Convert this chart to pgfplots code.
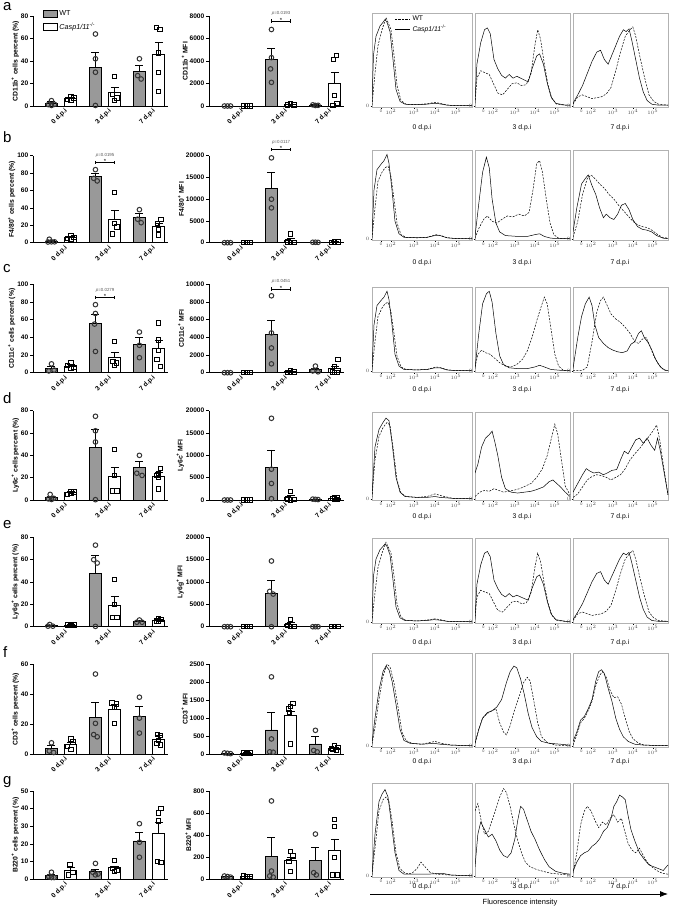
\documentclass[border=0pt]{standalone}
\usepackage{fontspec}
\setmainfont{Liberation Sans}
\setsansfont{Liberation Sans}
\usepackage{pgfplots}
\pgfplotsset{compat=1.18}
\usetikzlibrary{arrows.meta}
\definecolor{barg}{gray}{0.6}
\newcommand{\fs}[1]{\fontsize{#1}{#1}\selectfont}

\pgfplotsset{
  barax/.style={scale only axis, width=135pt, xmin=-0.64, xmax=2.43, ymin=0, clip=false,
    anchor=north west,
    axis x line=bottom, axis y line=left, axis line style={-, line width=0.9pt, black},
    xtick={0,1,2}, xticklabels={0 d.p.i,3 d.p.i,7 d.p.i}, xtick style={draw=none},
    x tick label style={rotate=45, anchor=north east, font=\bfseries\fs{6.6}, inner sep=1pt, xshift=4pt},
    ytick style={line width=0.8pt, black}, major tick length=3pt, tick align=outside,
    y tick label style={font=\bfseries\fs{6.6}, inner sep=1.5pt},
    ylabel style={font=\bfseries\fs{6.8}, yshift=-3pt},
    scaled y ticks=false, /pgf/number format/1000 sep={},
    /pgf/number format/assume math mode=true},
  wtbar/.style={ybar, bar width=12pt, bar shift=0pt, fill=barg, draw=black, line width=0.8pt,
    error bars/y dir=plus, error bars/y explicit,
    error bars/error bar style={line width=0.8pt, black},
    error bars/error mark options={rotate=90, mark size=4pt, line width=0.8pt, black}},
  kobar/.style={wtbar, fill=white},
  wtpt/.style={only marks, mark=o, mark size=2.3pt, mark options={line width=1pt, draw=black!80}},
  kopt/.style={only marks, mark=square, mark size=2.2pt, mark options={line width=1pt, draw=black}},
  histax/.style={scale only axis, anchor=north west, xmin=0, xmax=10, ymin=-1, ymax=100,
    axis line style={gray!60, line width=0.6pt},
    xtick={0.9,1.9,4.2,6.3,8.4}, xticklabels={0,$10^2$,$10^3$,$10^4$,$10^5$}, ytick={0},
    tick label style={font=\fs{3.8}, inner sep=1pt, text=black!70},
    tick style={black, line width=0.3pt}, major tick length=1.5pt, tick align=outside,
    xtick pos=bottom, ytick pos=left},
  wtline/.style={black, line width=0.5pt, dash pattern=on 2pt off 1.3pt},
  koline/.style={black, line width=0.5pt},
}

% bar axis: #1 x, #2 top, #3 height, #4 ymax, #5 yticks, #6 ylabel, #7 plots
\newcommand{\bax}[7]{%
  \begin{axis}[barax, at={(#1pt,-#2pt)}, height=#3pt, ymax=#4, ytick={#5}, ylabel={#6}]
  #7
  \end{axis}}
% #1 WT bars, #2 KO bars, #3 WT points, #4 KO points
\newcommand{\bplot}[4]{%
  \addplot[wtbar] coordinates {#1};
  \addplot[kobar] coordinates {#2};
  \addplot[wtpt] coordinates {#3};
  \addplot[kopt] coordinates {#4};}
% significance bracket at 3 d.p.i: #1 y, #2 p text
\newcommand{\sig}[2]{%
  \draw[line width=0.6pt] (axis cs:0.78,#1) -- (axis cs:1.22,#1);
  \draw[line width=0.6pt] (axis cs:0.78,#1) ++(0pt,1.8pt) -- ++(0pt,-3.6pt);
  \draw[line width=0.6pt] (axis cs:1.22,#1) ++(0pt,1.8pt) -- ++(0pt,-3.6pt);
  \node[anchor=south, inner sep=0pt, font=\fs{6}] at (axis cs:1,#1) [yshift=-1.5pt] {*};
  \node[anchor=south, inner sep=0pt, font=\fs{4.4}, text=black!65] at (axis cs:1,#1) [yshift=5pt] {\textit{p}=#2};}
% histogram: #1 x, #2 top, #3 width, #4 height, #5 WT, #6 KO
\newcommand{\hist}[6]{%
  \begin{axis}[histax, at={(#1pt,-#2pt)}, width=#3pt, height=#4pt]
  \addplot[wtline] coordinates {#5};
  \addplot[koline] coordinates {#6};
  \end{axis}}
\newcommand{\days}[1]{%
  \node[font=\fs{6.8}] at (422pt,-#1pt) {0 d.p.i};
  \node[font=\fs{6.8}] at (522pt,-#1pt) {3 d.p.i};
  \node[font=\fs{6.8}] at (620pt,-#1pt) {7 d.p.i};}

% histogram curves (shared between rows a and e)
\newcommand{\aWTa}{(0,1)(0.3,35)(0.6,65)(1.0,82)(1.4,95)(1.6,90)(1.9,82)(2.2,55)(2.5,22)(2.9,6)(3.4,2)(4.5,1.5)(5.5,2.5)(6.3,4)(6.8,3)(7.6,1)(8.5,0.5)(10,0.5)}
\newcommand{\aKOa}{(0,4)(0.15,55)(0.4,75)(0.8,86)(1.1,90)(1.3,93)(1.5,90)(1.8,80)(2.1,50)(2.4,18)(2.8,5)(3.3,2)(4.5,1.5)(5.5,2)(6.2,3)(6.7,2.5)(7.5,1)(8.5,0.5)(10,0.5)}
\newcommand{\aWTb}{(0,3)(0.2,30)(0.6,38)(1.0,36)(1.5,34)(1.9,25)(2.4,14)(2.9,12)(3.4,18)(3.9,24)(4.4,25)(4.9,22)(5.4,23)(5.9,35)(6.3,65)(6.6,82)(6.9,72)(7.3,45)(7.7,22)(8.1,8)(8.6,2)(9.5,1)(10,1)}
\newcommand{\aKOb}{(0,5)(0.2,45)(0.6,68)(1.0,82)(1.3,84)(1.6,78)(2.0,50)(2.4,40)(2.8,33)(3.2,30)(3.6,34)(4.0,30)(4.4,32)(4.8,30)(5.2,28)(5.6,26)(6.0,40)(6.5,54)(6.8,56)(7.2,45)(7.6,25)(8.0,10)(8.5,3)(9.5,1)(10,1)}
\newcommand{\aWTc}{(0,2)(0.5,10)(1.0,12)(1.5,10)(2.0,8)(2.5,9)(3.0,10)(3.5,13)(4.0,20)(4.5,38)(5.0,58)(5.5,75)(6.0,82)(6.3,85)(6.6,75)(7.0,55)(7.5,32)(8.0,12)(8.5,5)(9,2)(10,1)}
\newcommand{\aKOc}{(0,3)(0.5,12)(1.0,22)(1.5,35)(2.0,48)(2.5,58)(2.9,60)(3.3,50)(3.7,45)(4.1,55)(4.5,65)(4.9,75)(5.3,82)(5.6,80)(5.9,83)(6.2,70)(6.6,50)(7.0,30)(7.4,15)(7.8,6)(8.3,2)(9,1)(10,1)}
\newcommand{\bWTa}{(0,1)(0.3,35)(0.6,65)(1.0,75)(1.3,80)(1.6,82)(1.9,70)(2.2,45)(2.5,18)(2.9,5)(3.4,2)(4.5,1.5)(5.5,2)(6.4,5)(6.9,4)(7.5,1.5)(8.5,0.5)(10,0.5)}
\newcommand{\bKOa}{(0,3)(0.2,55)(0.5,78)(0.9,84)(1.2,88)(1.5,95)(1.7,85)(2.0,55)(2.3,20)(2.7,6)(3.2,2)(4.5,1.5)(5.5,2)(6.3,4)(6.8,4)(7.5,1.5)(8.5,0.5)(10,0.5)}

\begin{document}
\begin{tikzpicture}
\path[use as bounding box] (0,0) rectangle (675pt,-910pt);

% panel letters
\node[anchor=base west, inner sep=0pt, font=\fs{15}] at (3pt,-10pt) {a};
\node[anchor=base west, inner sep=0pt, font=\fs{15}] at (3pt,-142pt) {b};
\node[anchor=base west, inner sep=0pt, font=\fs{15}] at (3pt,-272pt) {c};
\node[anchor=base west, inner sep=0pt, font=\fs{15}] at (3pt,-403pt) {d};
\node[anchor=base west, inner sep=0pt, font=\fs{15}] at (3pt,-528pt) {e};
\node[anchor=base west, inner sep=0pt, font=\fs{15}] at (3pt,-657pt) {f};
\node[anchor=base west, inner sep=0pt, font=\fs{15}] at (3pt,-784pt) {g};

% ---------------- row a ----------------
\begin{axis}[barax, at={(33pt,-16pt)}, height=90pt, ymax=80, ytick={0,20,40,60,80},
  ylabel={CD11b\textsuperscript{+} cells percent (\%)},
  legend image code/.code={\draw[#1] (0pt,-3.5pt) rectangle (14pt,3.5pt);},
  legend style={at={(rel axis cs:0.07,1.08)}, anchor=north west, draw=none, fill=none,
    font=\fs{7.2}, row sep=1.5pt, inner sep=0pt}, legend cell align=left]
\addlegendimage{fill=barg, draw=black, line width=0.8pt}
\addlegendentry{WT}
\addlegendimage{fill=white, draw=black, line width=0.8pt}
\addlegendentry{\textit{Casp1/11}\textsuperscript{-/-}}
\bplot{(-0.22,2.5) +- (0,1.2) (0.78,34) +- (0,13.5) (1.78,31) +- (0,5.5)}
      {(0.22,7) +- (0,1) (1.22,12) +- (0,4.6) (2.22,45.6) +- (0,11)}
      {(-0.29,1.2) (-0.22,4.8) (-0.15,1.5) (-0.22,0.5) (0.78,64) (0.78,42) (0.78,30) (0.78,0.5) (1.78,42) (1.74,27) (1.82,24)}
      {(0.15,6) (0.22,8.5) (0.29,7) (0.22,5.5) (1.22,26) (1.17,10) (1.27,7) (1.22,5) (2.17,70) (2.25,68) (2.22,47) (2.22,30) (2.22,13)}
\end{axis}
\bax{209}{16}{90}{8000}{0,2000,4000,6000,8000}{CD11b\textsuperscript{+} MFI}{%
\bplot{(-0.22,0) +- (0,0) (0.78,4100) +- (0,980) (1.78,80) +- (0,30)}
      {(0.22,0) +- (0,0) (1.22,120) +- (0,40) (2.22,1970) +- (0,980)}
      {(-0.29,0) (-0.22,0) (-0.15,0) (0.78,6800) (0.78,4300) (0.76,3300) (0.78,2100) (1.72,100) (1.78,50) (1.84,60)}
      {(0.15,0) (0.22,0) (0.29,0) (1.15,80) (1.22,200) (1.29,100) (2.26,4500) (2.19,4150) (2.22,950) (2.27,200) (2.18,50)}
\sig{7550}{0.0193}}

\begin{axis}[histax, at={(372pt,-13pt)}, width=100pt, height=94pt,
  legend image code/.code={\draw[#1] (0pt,0pt) -- (15pt,0pt);},
  legend style={at={(rel axis cs:0.22,0.99)}, anchor=north west, draw=none, fill=none,
    font=\fs{6.8}, row sep=-1pt, inner sep=0pt}, legend cell align=left]
\addlegendimage{black, line width=1pt, dash pattern=on 0.8pt off 0.6pt}
\addlegendentry{WT}
\addlegendimage{black, line width=1.3pt}
\addlegendentry{\textit{Casp1/11}\textsuperscript{-/-}}
\addplot[wtline] coordinates {\aWTa};
\addplot[koline] coordinates {\aKOa};
\end{axis}
\hist{475}{13}{95}{94}{\aWTb}{\aKOb}
\hist{573}{13}{95}{94}{\aWTc}{\aKOc}
\days{128}

% ---------------- row b ----------------
\bax{33}{155.7}{87}{100}{0,20,40,60,80,100}{F4/80\textsuperscript{+} cells percent (\%)}{%
\bplot{(-0.22,1.7) +- (0,0.8) (0.78,76) +- (0,3.8) (1.78,29) +- (0,5)}
      {(0.22,6) +- (0,1) (1.22,27) +- (0,10.5) (2.22,18.3) +- (0,3.7)}
      {(-0.27,4) (-0.22,1) (-0.15,1) (-0.3,0.8) (0.78,84) (0.74,74) (0.82,71) (1.78,38) (1.74,27) (1.82,23)}
      {(0.15,5) (0.22,8) (0.29,6) (0.22,4) (1.22,58) (1.22,22) (1.17,10) (1.27,18) (2.27,27) (2.19,22) (2.22,15) (2.22,9)}
\sig{92}{0.0195}}
\bax{209}{155.7}{87}{20000}{0,5000,10000,15000,20000}{F4/80\textsuperscript{+} MFI}{%
\bplot{(-0.22,0) +- (0,0) (0.78,12500) +- (0,3600) (1.78,95) +- (0,30)}
      {(0.22,0) +- (0,0) (1.22,600) +- (0,450) (2.22,150) +- (0,50)}
      {(-0.29,0) (-0.22,0) (-0.15,0) (0.78,19500) (0.78,10000) (0.78,8000) (1.72,100) (1.78,100) (1.84,80)}
      {(0.15,0) (0.22,0) (0.29,0) (1.22,2000) (1.15,200) (1.29,100) (1.22,50) (2.15,100) (2.22,200) (2.29,150)}
\sig{21400}{0.0117}}
\hist{372}{150}{100}{90}{\bWTa}{\bKOa}
\hist{475}{150}{95}{90}
  {(0,1)(0.4,12)(0.9,22)(1.3,26)(1.8,20)(2.3,18)(2.8,22)(3.4,26)(4.0,25)(4.6,28)(5.2,26)(5.7,30)(6.1,55)(6.5,85)(6.8,88)(7.1,75)(7.5,45)(7.9,18)(8.3,5)(8.8,1)(10,0.5)}
  {(0,3)(0.4,40)(0.8,75)(1.2,92)(1.5,80)(1.8,45)(2.2,18)(2.6,8)(3.2,4)(4.5,3)(5.5,3)(6.3,5)(6.8,6)(7.3,3)(8,1)(10,0.5)}
\hist{573}{150}{95}{90}
  {(0,2)(0.5,20)(1.0,50)(1.5,68)(1.9,72)(2.3,68)(2.8,62)(3.3,57)(3.8,50)(4.3,45)(4.8,38)(5.3,32)(5.8,26)(6.3,20)(6.8,16)(7.3,14)(7.8,13)(8.3,10)(8.8,6)(9.4,2)(10,1)}
  {(0,8)(0.4,35)(0.9,62)(1.3,68)(1.6,72)(2.0,60)(2.4,50)(2.8,35)(3.2,24)(3.5,28)(3.9,24)(4.3,22)(4.7,28)(5.1,38)(5.5,40)(5.9,33)(6.3,22)(6.8,14)(7.3,11)(7.8,10)(8.3,8)(8.8,4)(9.5,1)(10,0.5)}
\days{263}

% ---------------- row c ----------------
\bax{33}{284.3}{88.4}{100}{0,20,40,60,80,100}{CD11c\textsuperscript{+} cells percent (\%)}{%
\bplot{(-0.22,5) +- (0,2.5) (0.78,55.5) +- (0,11) (1.78,31.5) +- (0,8.5)}
      {(0.22,7.5) +- (0,1.5) (1.22,17) +- (0,6) (2.22,28) +- (0,8)}
      {(-0.22,10) (-0.28,2) (-0.16,3) (0.78,77) (0.78,67) (0.76,55) (0.78,24) (1.78,46) (1.78,31) (1.78,17)}
      {(0.22,11) (0.15,8) (0.29,6) (0.22,5) (1.22,35) (1.18,13) (1.26,11) (1.22,8) (2.22,56) (2.22,37) (2.22,25) (2.18,15) (2.26,7)}
\sig{85}{0.0279}}
\bax{209}{284.3}{88.4}{10000}{0,2000,4000,6000,8000,10000}{CD11c\textsuperscript{+} MFI}{%
\bplot{(-0.22,0) +- (0,0) (0.78,4300) +- (0,1600) (1.78,340) +- (0,150)}
      {(0.22,0) +- (0,0) (1.22,120) +- (0,60) (2.22,460) +- (0,280)}
      {(-0.29,0) (-0.22,0) (-0.15,0) (0.78,8700) (0.78,4500) (0.78,2800) (0.78,1000) (1.78,750) (1.72,200) (1.84,100)}
      {(0.15,0) (0.22,0) (0.29,0) (1.22,250) (1.15,50) (1.29,100) (1.22,50) (2.29,1500) (2.22,700) (2.17,100) (2.22,20) (2.27,0)}
\sig{9475}{0.0451}}
\hist{372}{287}{100}{85}{\bWTa}{\bKOa}
\hist{475}{287}{95}{85}
  {(0,5)(0.3,20)(0.7,25)(1.1,22)(1.6,20)(2.1,15)(2.6,10)(3.2,6)(3.8,5)(4.4,8)(5.0,14)(5.5,24)(6.0,40)(6.5,60)(7.0,78)(7.3,88)(7.6,80)(8.0,50)(8.4,20)(8.8,6)(9.3,1)(10,0.5)}
  {(0,3)(0.4,45)(0.8,80)(1.2,92)(1.5,95)(1.8,82)(2.2,45)(2.6,18)(3.0,8)(3.6,4)(4.5,3)(5.5,3)(6.3,5)(6.8,7)(7.3,5)(8,2)(9,1)(10,0.5)}
\hist{573}{287}{95}{85}
  {(0,0.5)(1.0,1)(1.5,5)(2.0,35)(2.5,70)(2.9,84)(3.2,88)(3.6,78)(4.0,68)(4.5,62)(5.0,58)(5.5,52)(6.0,45)(6.5,35)(6.9,33)(7.3,38)(7.7,40)(8.1,30)(8.5,18)(9.0,8)(9.5,2)(10,0.5)}
  {(0,3)(0.5,40)(0.9,65)(1.3,80)(1.7,88)(2.0,78)(2.3,55)(2.7,40)(3.2,33)(3.7,28)(4.2,25)(4.7,23)(5.2,22)(5.7,24)(6.1,32)(6.5,35)(6.9,45)(7.2,48)(7.5,40)(7.9,34)(8.3,25)(8.7,14)(9.2,5)(9.7,1)(10,0.5)}
\days{390}

% ---------------- row d ----------------
\bax{33}{410.7}{89.3}{80}{0,20,40,60,80}{Ly6c\textsuperscript{+} cells percent (\%)}{%
\bplot{(-0.22,2) +- (0,1) (0.78,47) +- (0,16) (1.78,29) +- (0,5.5)}
      {(0.22,6.5) +- (0,1) (1.22,21) +- (0,8.5) (2.22,21) +- (0,3.5)}
      {(-0.25,5) (-0.29,1) (-0.17,1.5) (-0.22,0.5) (0.78,75) (0.78,62) (0.78,52) (0.78,0.3) (1.78,40) (1.72,24) (1.84,22)}
      {(0.15,5) (0.22,7.5) (0.29,7) (0.22,6) (1.22,45) (1.22,22) (1.17,8) (1.27,8) (2.26,28) (2.22,24) (2.18,22) (2.22,20) (2.22,10)}}
\bax{209}{410.7}{89.3}{20000}{0,5000,10000,15000,20000}{Ly6c\textsuperscript{+} MFI}{%
\bplot{(-0.22,0) +- (0,0) (0.78,7300) +- (0,3900) (1.78,150) +- (0,50)}
      {(0.22,0) +- (0,0) (1.22,550) +- (0,450) (2.22,350) +- (0,100)}
      {(-0.29,0) (-0.22,0) (-0.15,0) (0.78,18300) (0.78,6900) (0.78,3700) (0.78,300) (1.72,200) (1.78,150) (1.84,100)}
      {(0.15,0) (0.22,0) (0.29,0) (1.22,1900) (1.15,200) (1.29,100) (1.22,0) (2.28,600) (2.22,500) (2.17,300) (2.22,200) (2.28,150)}}
\hist{372}{412}{100}{88}
  {(0,2)(0.3,45)(0.7,72)(1.1,82)(1.5,88)(1.8,85)(2.1,60)(2.5,22)(2.9,7)(3.4,3)(4.5,2)(5.5,3)(6.3,6)(6.9,4)(8,1)(10,0.5)}
  {(0,5)(0.3,60)(0.7,80)(1.1,88)(1.4,93)(1.7,90)(2.0,65)(2.4,25)(2.8,8)(3.3,3)(4.5,2)(5.5,2)(6.3,3)(6.8,2)(8,1)(10,0.5)}
\hist{475}{412}{95}{88}
  {(0,3)(0.5,8)(1.0,10)(1.5,9)(2.0,12)(2.5,10)(3.0,8)(3.5,9)(4.0,10)(4.7,12)(5.3,15)(5.9,18)(6.5,25)(7.1,35)(7.6,50)(8.0,68)(8.4,86)(8.7,75)(9.1,45)(9.5,15)(10,5)}
  {(0,30)(0.3,40)(0.7,60)(1.1,70)(1.5,74)(1.8,78)(2.1,65)(2.4,50)(2.8,25)(3.2,12)(3.8,8)(4.5,7)(5.2,8)(5.9,9)(6.5,11)(7.2,14)(7.8,20)(8.2,22)(8.6,18)(9.0,14)(9.5,8)(10,3)}
\hist{573}{412}{95}{88}
  {(0,2)(0.5,6)(1.0,14)(1.5,22)(2.0,26)(2.5,28)(3.0,27)(3.5,25)(4.0,22)(4.5,25)(5.0,28)(5.5,35)(6.0,45)(6.5,52)(7.0,58)(7.5,65)(8.0,72)(8.4,78)(8.8,85)(9.1,70)(9.5,40)(10,5)}
  {(0,8)(0.5,18)(1.0,28)(1.4,35)(1.8,32)(2.2,30)(2.7,31)(3.2,28)(3.6,30)(4.1,33)(4.6,34)(5.0,45)(5.4,55)(5.8,52)(6.2,60)(6.6,68)(7.0,70)(7.4,64)(7.8,70)(8.2,62)(8.6,56)(8.9,70)(9.2,55)(9.6,30)(10,5)}
\days{517}

% ---------------- row e ----------------
\bax{33}{537.3}{89.4}{80}{0,20,40,60,80}{Ly6g\textsuperscript{+} cells percent (\%)}{%
\bplot{(-0.22,1) +- (0,0.5) (0.78,47.5) +- (0,16) (1.78,4.7) +- (0,1)}
      {(0.22,1.5) +- (0,0.3) (1.22,19.5) +- (0,8) (2.22,5.9) +- (0,1)}
      {(-0.26,2) (-0.19,0.5) (-0.3,0.5) (0.78,73) (0.74,60) (0.82,57) (0.78,0.3) (1.72,4) (1.78,6) (1.84,4)}
      {(0.15,1.5) (0.22,2) (0.29,1.5) (0.22,1) (1.22,42) (1.22,20) (1.17,8) (1.27,8) (2.17,5) (2.22,7) (2.27,6.5) (2.22,5)}}
\bax{209}{537.3}{89.4}{20000}{0,5000,10000,15000,20000}{Ly6g\textsuperscript{+} MFI}{%
\bplot{(-0.22,0) +- (0,0) (0.78,7475) +- (0,2900) (1.78,0) +- (0,0)}
      {(0.22,0) +- (0,0) (1.22,490) +- (0,370) (2.22,0) +- (0,0)}
      {(-0.29,0) (-0.22,0) (-0.15,0) (0.78,14700) (0.74,7900) (0.82,7300) (0.78,0) (1.72,0) (1.78,0) (1.84,0)}
      {(0.15,0) (0.22,0) (0.29,0) (1.22,1600) (1.15,300) (1.29,50) (1.22,0) (2.15,0) (2.22,0) (2.29,0)}}
\hist{372}{538}{100}{85}{\aWTa}{\aKOa}
\hist{475}{538}{95}{85}{\aWTb}{\aKOb}
\hist{573}{538}{95}{85}{\aWTc}{\aKOc}
\days{643}

% ---------------- row f ----------------
\bax{33}{664.3}{89.7}{60}{0,20,40,60}{CD3\textsuperscript{+} cells percent (\%)}{%
\bplot{(-0.22,3.5) +- (0,2) (0.78,24.6) +- (0,10) (1.78,25.3) +- (0,6.7)}
      {(0.22,6.5) +- (0,1.5) (1.22,29.8) +- (0,3.5) (2.22,9.5) +- (0,3)}
      {(-0.22,7.5) (-0.27,2) (-0.17,1) (0.78,53.5) (0.78,20.5) (0.74,13) (0.82,11.5) (1.78,38) (1.78,24) (1.78,14)}
      {(0.22,10) (0.27,8) (0.15,5) (0.22,3) (1.16,34) (1.26,33.5) (1.22,31) (1.22,20.5) (2.19,13) (2.26,12.5) (2.22,9) (2.18,7) (2.26,6)}}
\bax{209}{664.3}{89.7}{2500}{0,500,1000,1500,2000,2500}{CD3\textsuperscript{+} MFI}{%
\bplot{(-0.22,20) +- (0,5) (0.78,670) +- (0,500) (1.78,280) +- (0,200)}
      {(0.22,30) +- (0,5) (1.22,1065) +- (0,115) (2.22,160) +- (0,25)}
      {(-0.29,30) (-0.22,20) (-0.15,10) (0.78,2150) (0.78,420) (0.74,60) (0.82,50) (1.78,660) (1.74,100) (1.82,60)}
      {(0.15,30) (0.22,40) (0.29,30) (0.22,20) (1.27,1400) (1.22,1320) (1.17,1250) (1.19,1150) (1.22,280) (2.15,150) (2.22,220) (2.29,180) (2.18,130) (2.26,100)}}
\hist{372}{653}{100}{94}
  {(0,2)(0.3,20)(0.7,50)(1.1,75)(1.5,88)(1.8,85)(2.2,68)(2.6,42)(3.0,15)(3.4,6)(4,3)(5,2)(6.3,5)(6.9,3)(8,1)(10,0.5)}
  {(0,4)(0.3,30)(0.7,60)(1.1,80)(1.4,86)(1.7,82)(2.0,70)(2.4,45)(2.8,18)(3.2,6)(3.8,3)(5,2)(6.2,3)(6.8,2)(8,1)(10,0.5)}
\hist{475}{653}{95}{94}
  {(0,3)(0.4,18)(0.8,30)(1.3,35)(1.8,38)(2.2,40)(2.6,25)(3.0,15)(3.3,12)(3.7,22)(4.2,40)(4.7,55)(5.1,68)(5.5,74)(5.8,70)(6.2,48)(6.6,25)(7.0,10)(7.6,4)(8.5,1)(10,0.5)}
  {(0,3)(0.4,18)(0.8,30)(1.3,36)(1.8,38)(2.3,42)(2.8,50)(3.3,68)(3.7,80)(4.1,86)(4.4,84)(4.8,72)(5.2,55)(5.6,35)(6.0,20)(6.5,10)(7.0,5)(7.8,3)(9,2)(10,1)}
\hist{573}{653}{95}{94}
  {(0,1)(0.4,12)(0.8,25)(1.2,30)(1.6,38)(2.0,48)(2.4,65)(2.8,76)(3.1,80)(3.5,74)(3.9,60)(4.3,52)(4.7,53)(5.1,45)(5.5,30)(5.9,16)(6.3,8)(6.9,3)(7.5,1)(10,0.5)}
  {(0,5)(0.4,15)(0.8,28)(1.2,32)(1.6,40)(2.0,50)(2.4,70)(2.7,80)(3.0,82)(3.3,78)(3.7,62)(4.1,48)(4.5,30)(4.9,18)(5.3,10)(5.8,5)(6.5,2)(7.5,1)(10,0.5)}
\days{762}

% ---------------- row g ----------------
\bax{33}{791}{88.3}{50}{0,10,20,30,40,50}{B220\textsuperscript{+} cells percent (\%)}{%
\bplot{(-0.22,2) +- (0,1) (0.78,4.6) +- (0,1.2) (1.78,21.7) +- (0,5.1)}
      {(0.22,5) +- (0,1.5) (1.22,6.5) +- (0,0.8) (2.22,26) +- (0,6.4)}
      {(-0.22,4) (-0.28,1.5) (-0.16,1) (-0.22,1) (0.78,9) (0.72,4) (0.84,3) (0.78,2.5) (1.78,31.5) (1.78,21) (1.78,12.5)}
      {(0.2,8.5) (0.27,4) (0.17,2.5) (1.22,10.5) (1.17,6) (1.27,5) (1.22,4.5) (2.27,40) (2.22,37.5) (2.22,33) (2.19,10) (2.27,9.5)}}
\bax{209}{791}{88.3}{800}{0,200,400,600,800}{B220\textsuperscript{+} MFI}{%
\bplot{(-0.22,25) +- (0,5) (0.78,209) +- (0,167) (1.78,170) +- (0,115)}
      {(0.22,25) +- (0,5) (1.22,172) +- (0,30) (2.22,260) +- (0,106)}
      {(-0.29,30) (-0.22,25) (-0.15,20) (0.78,710) (0.78,75) (0.74,30) (0.82,20) (1.78,410) (1.74,60) (1.8,40)}
      {(0.15,30) (0.22,25) (0.29,25) (0.22,20) (1.22,250) (1.27,210) (1.18,160) (1.22,70) (2.22,540) (2.22,480) (2.22,200) (2.18,40) (2.27,40)}}
\hist{372}{783}{100}{94}
  {(0,1)(0.3,30)(0.7,70)(1.1,82)(1.4,85)(1.7,80)(2.0,60)(2.4,25)(2.8,8)(3.3,3)(4.0,3)(4.5,8)(4.9,15)(5.3,10)(5.8,4)(6.5,2)(8,1)(10,0.5)}
  {(0,3)(0.3,45)(0.7,80)(1.0,88)(1.3,93)(1.6,85)(1.9,60)(2.3,25)(2.7,6)(3.2,2)(4.5,2)(5.5,2)(7,3)(8,1)(10,0.5)}
\hist{475}{783}{95}{94}
  {(0,70)(0.3,78)(0.6,62)(1.0,45)(1.4,48)(1.8,60)(2.2,72)(2.6,85)(3.0,94)(3.3,90)(3.7,75)(4.1,55)(4.5,38)(4.9,25)(5.3,15)(5.8,10)(6.5,7)(7.2,5)(8,3)(9,2)(10,1)}
  {(0,10)(0.3,45)(0.6,58)(1.0,50)(1.4,42)(1.8,45)(2.2,38)(2.6,28)(3.0,22)(3.4,20)(3.8,25)(4.2,40)(4.5,60)(4.8,75)(5.1,72)(5.5,60)(5.9,48)(6.3,40)(6.8,28)(7.3,18)(7.8,10)(8.5,5)(9.3,3)(10,2)}
\hist{573}{783}{95}{94}
  {(0,3)(0.4,25)(0.8,55)(1.2,70)(1.5,75)(1.9,70)(2.3,60)(2.7,52)(3.1,58)(3.5,55)(3.9,62)(4.3,66)(4.7,58)(5.1,62)(5.4,50)(5.8,35)(6.2,28)(6.6,25)(7.0,30)(7.4,22)(7.8,15)(8.3,10)(8.8,6)(9.4,3)(10,2)}
  {(0,5)(0.4,15)(0.8,22)(1.2,25)(1.6,27)(2.0,32)(2.4,35)(2.8,40)(3.2,48)(3.6,52)(4.0,62)(4.3,75)(4.6,80)(4.9,87)(5.2,85)(5.5,82)(5.8,65)(6.1,50)(6.5,38)(7.0,25)(7.5,18)(8.0,12)(8.5,10)(9.0,8)(9.5,6)(10,12)}
\days{887}

\draw[line width=0.8pt, -{Latex[length=8pt, width=6pt]}] (370pt,-894pt) -- (668pt,-894pt);
\node[font=\fs{7.5}] at (520pt,-903pt) {Fluorescence intensity};
\end{tikzpicture}
\end{document}
